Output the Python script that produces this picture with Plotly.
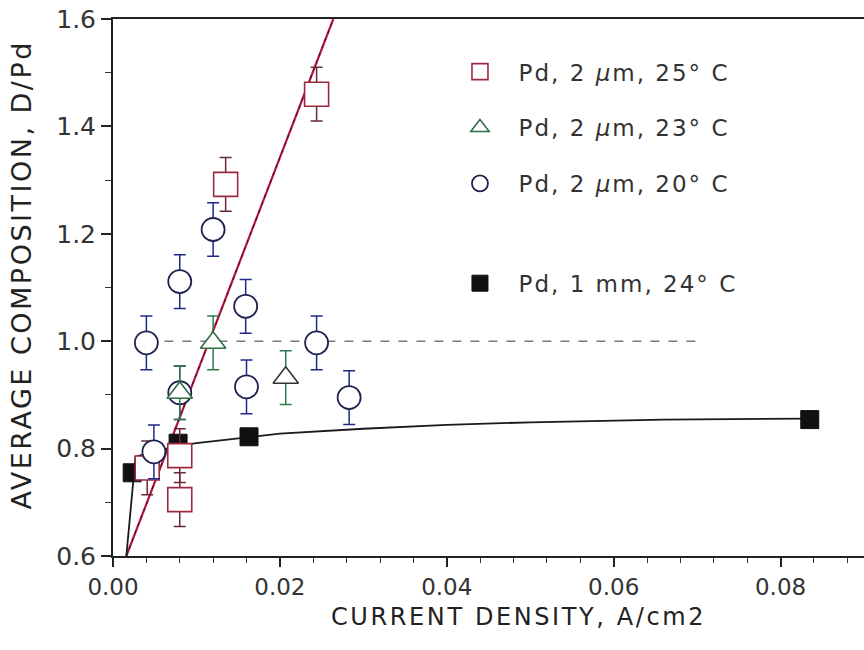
import plotly.graph_objects as go

# Pd, 2 um, 25 C  (open squares)
sq_x = [0.0041, 0.0080, 0.0080, 0.0135, 0.0244]
sq_y = [0.764, 0.787, 0.705, 1.292, 1.460]
sq_err = [0.05, 0.05, 0.05, 0.05, 0.05]

# Pd, 2 um, 23 C  (open triangles)
tr_x = [0.0080, 0.0120, 0.0207]
tr_y = [0.904, 0.997, 0.932]
tr_err = [0.05, 0.05, 0.05]

# Pd, 2 um, 20 C  (open circles)
ci_x = [0.0040, 0.0049, 0.0080, 0.0080, 0.0120, 0.0159, 0.0160, 0.0244, 0.0283]
ci_y = [0.997, 0.794, 1.111, 0.904, 1.208, 1.065, 0.915, 0.997, 0.895]
ci_err = [0.05, 0.05, 0.05, 0.05, 0.05, 0.05, 0.05, 0.05, 0.05]

# Pd, 1 mm, 24 C  (filled squares)
bk_x = [0.0023, 0.0078, 0.0163, 0.0835]
bk_y = [0.755, 0.810, 0.822, 0.854]

# trend curve through the 1 mm data
fit_x = [0.0016, 0.0025, 0.0027, 0.0050, 0.0078, 0.0100, 0.0163, 0.0200,
         0.0300, 0.0400, 0.0500, 0.0660, 0.0835]
fit_y = [0.600, 0.745, 0.785, 0.795, 0.805, 0.810, 0.822, 0.828,
         0.837, 0.844, 0.849, 0.854, 0.856]

# linear trend of the 2 um films
lin_x = [0.0016, 0.0264]
lin_y = [0.600, 1.600]

# D/Pd = 1 reference level
ref_x = [0.0040, 0.0700]
ref_y = [1.0, 1.0]

x_range = [0.0, 0.09]
y_range = [0.6, 1.6]

FONT = "DejaVu Sans"
NB = "\u00a0"


def spaced(text, px):
    return '<span style="letter-spacing:%spx">%s</span>' % (px, text)


def entry(text):
    return spaced(NB * 2 + text, 2)


fig = go.Figure()

fig.add_trace(go.Scatter(x=ref_x, y=ref_y, mode="lines", showlegend=False,
                         line=dict(color="#7a7a7a", width=1.6, dash="dash")))
fig.add_trace(go.Scatter(x=lin_x, y=lin_y, mode="lines", showlegend=False,
                         line=dict(color="#b0143f", width=2.2)))
fig.add_trace(go.Scatter(x=lin_x, y=lin_y, mode="lines", showlegend=False,
                         line=dict(color="#3a0a1c", width=1.0, dash="3px,5px")))
fig.add_trace(go.Scatter(x=fit_x, y=fit_y, mode="lines", showlegend=False,
                         line=dict(color="#1a1a1a", width=1.8)))

fig.add_trace(go.Scatter(
    x=bk_x, y=bk_y, mode="markers", name=entry("Pd, 1 mm, 24° C"),
    legend="legend2",
    marker=dict(symbol="square", size=18, color="#111111",
                line=dict(color="#111111", width=1))))

fig.add_trace(go.Scatter(
    x=sq_x, y=sq_y, mode="markers", name=entry("Pd, 2 <i>µ</i>m, 25° C"),
    legendrank=1, legendgroup="a",
    error_y=dict(type="data", array=sq_err, color="#6a2a35", thickness=1.5, width=6),
    marker=dict(symbol="square", size=24, color="white",
                line=dict(color="#9a2a40", width=1.6))))

fig.add_trace(go.Scatter(
    x=ci_x, y=ci_y, mode="markers", name=entry("Pd, 2 <i>µ</i>m, 20° C"),
    legendrank=3, legendgroup="c",
    error_y=dict(type="data", array=ci_err, color="#1f2a88", thickness=1.5, width=6),
    marker=dict(symbol="circle", size=23, color="white",
                line=dict(color="#1e2250", width=1.8))))

fig.add_trace(go.Scatter(
    x=tr_x, y=tr_y, mode="markers", name=entry("Pd, 2 <i>µ</i>m, 23° C"),
    legendrank=2, legendgroup="b",
    error_y=dict(type="data", array=tr_err, color="#2f7a4c", thickness=1.5, width=6),
    marker=dict(symbol="triangle-up", size=22, color="white",
                line=dict(color=["#2f6e45", "#2f6e45", "#333333"], width=1.6))))

fig.update_layout(
    width=864, height=650,
    margin=dict(l=113, r=0, t=19, b=94, pad=0),
    paper_bgcolor="white", plot_bgcolor="white",
    font=dict(family=FONT, color="#333333"),
    xaxis=dict(range=x_range, showgrid=False, zeroline=False,
               showline=True, linecolor="#222222", linewidth=2, mirror=True,
               ticks="outside", ticklen=9, tickwidth=1.5, tickcolor="#222222",
               dtick=0.02, tick0=0, tickformat=".2f",
               tickfont=dict(family=FONT, size=23, color="#333333"),
               minor=dict(dtick=0.004, tick0=0, ticks="outside", ticklen=5,
                          tickwidth=1.2, tickcolor="#333333")),
    yaxis=dict(range=y_range, showgrid=False, zeroline=False,
               showline=True, linecolor="#222222", linewidth=2,
               ticks="outside", ticklen=10, tickwidth=1.5, tickcolor="#222222",
               dtick=0.2, tick0=0.6, tickformat=".1f",
               tickfont=dict(family=FONT, size=25, color="#333333"),
               minor=dict(dtick=0.1, tick0=0.6, ticks="outside", ticklen=6,
                          tickwidth=1.2, tickcolor="#333333")),
    legend=dict(x=0.462, xanchor="left", y=0.942, yanchor="top",
                bgcolor="rgba(0,0,0,0)", borderwidth=0,
                font=dict(family=FONT, size=23, color="#333333"),
                tracegroupgap=23, traceorder="grouped", itemsizing="trace"),
    legend2=dict(x=0.462, xanchor="left", y=0.548, yanchor="top",
                 bgcolor="rgba(0,0,0,0)", borderwidth=0,
                 font=dict(family=FONT, size=23, color="#333333"),
                 itemsizing="trace"),
    annotations=[
        dict(text=spaced("CURRENT DENSITY, A/cm2", 2.6),
             xref="paper", yref="paper",
             x=0.54, y=-0.1145, xanchor="center", yanchor="middle",
             showarrow=False, font=dict(family=FONT, size=24, color="#222222")),
        dict(text=spaced("AVERAGE COMPOSITION, D/Pd", 2.5),
             xref="paper", yref="paper",
             x=-0.122, y=0.523, xanchor="center", yanchor="middle", textangle=-90,
             showarrow=False, font=dict(family=FONT, size=27, color="#222222")),
    ],
)

fig.write_html("out.html")
